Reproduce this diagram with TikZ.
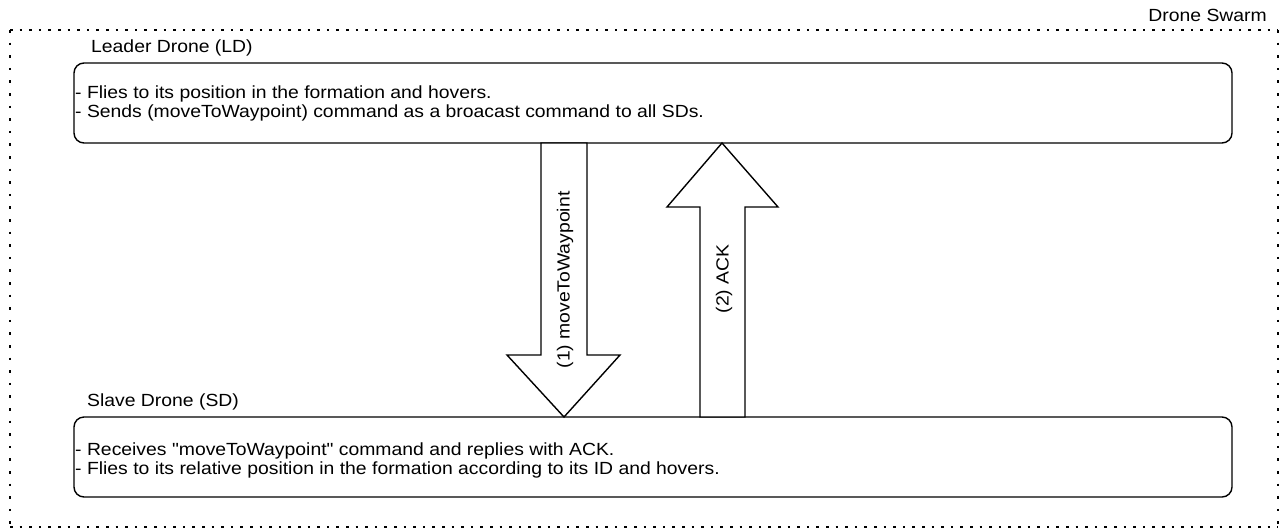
\documentclass[tikz,border=0pt]{standalone}
\usepackage{fontspec}
\newfontfamily\diagfont{Liberation Sans}[FakeStretch=1.1]
\begin{document}
\begin{tikzpicture}[x=1pt,y=-1pt,
  every node/.style={inner sep=0pt, font=\diagfont\fontsize{17.6}{19}\selectfont},
  swarmh/.style={line width=2.6pt, dash pattern=on 2.6pt off 7pt},
  swarmv/.style={line width=2.6pt, dash pattern=on 2.6pt off 10pt},
  dronebox/.style={draw, line width=1.4pt, rounded corners=10pt},
  blockarrow/.style={draw, line width=1.4pt, fill=white, line join=miter},
  caption/.style={anchor=west},
  bodytext/.style={anchor=west, align=left}]
\useasboundingbox (0,0) rectangle (1284,531);

% dotted swarm boundary and its title
\coordinate (swnw) at (10,30);
\coordinate (swse) at (1278,527);
\draw[swarmh] (swnw) -- (swnw -| swse);
\draw[swarmh] (swnw |- swse) -- (swse);
\draw[swarmv] (swnw) -- (swnw |- swse);
\draw[swarmv] (swnw -| swse) -- (swse);
\node[anchor=east] (swarmtitle) at (1267,15) {Drone Swarm};

% leader drone
\node[caption] (ldtitle) at (91,48) {Leader Drone (LD)};
\draw[dronebox] (74,63) rectangle (1232,143);
\node[bodytext] (ldtext) at (75,103)
  {- Flies to its position in the formation and hovers.\\
   - Sends (moveToWaypoint) command as a broacast command to all SDs.};

% slave drone
\node[caption] (sdtitle) at (87,402) {Slave Drone (SD)};
\draw[dronebox] (74,417) rectangle (1232,497);
\node[bodytext] (sdtext) at (75,460)
  {- Receives "moveToWaypoint" command and replies with ACK.\\
   - Flies to its relative position in the formation according to its ID and hovers.};

% (1) command: leader to slave
\draw[blockarrow] (541,143) -- (541,355) -- (507,355) -- (564,417)
  -- (620,355) -- (587,355) -- (587,143) -- cycle;
\node[rotate=90] (cmd) at (565,280) {(1) moveToWaypoint};

% (2) acknowledgement: slave to leader
\draw[blockarrow] (700,417) -- (700,207) -- (667,207) -- (722,143)
  -- (778,207) -- (745,207) -- (745,417) -- cycle;
\node[rotate=90] (ack) at (724,279) {(2) ACK};
\end{tikzpicture}
\end{document}
